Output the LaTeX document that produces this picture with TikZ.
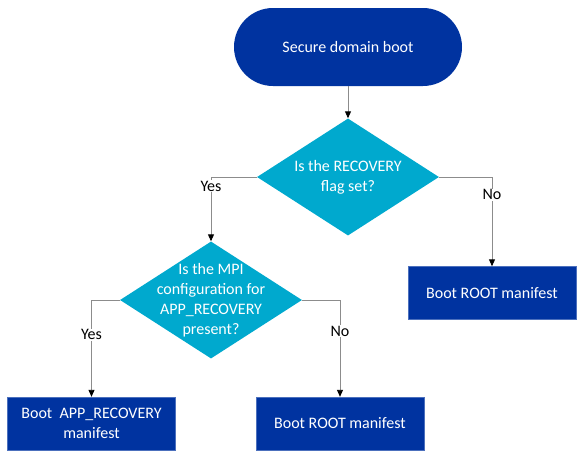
\documentclass[tikz,border=0pt]{standalone}
\usepackage{fontspec}
\setmainfont{Carlito}
\usetikzlibrary{arrows.meta,shapes.geometric}
\definecolor{BootNavy}{HTML}{0033A0}
\definecolor{BootCyan}{HTML}{00A9CE}
\definecolor{BootGrey}{HTML}{8C8C8C}

\begin{document}
\begin{tikzpicture}[x=1pt,y=-1pt,
    start/.style={fill=BootNavy,text=white,rounded corners=39pt,
      minimum width=228pt,minimum height=78pt,align=center,
      font=\fontsize{16}{20}\selectfont},
    decision/.style={diamond,fill=BootCyan,text=white,aspect=1.556,
      inner xsep=-14pt,inner ysep=-10pt,
      minimum width=182pt,minimum height=117pt,align=center,
      font=\fontsize{16}{20}\selectfont},
    manifest/.style={draw=BootNavy!70!white,fill=BootNavy,text=white,
      minimum width=168pt,minimum height=53pt,align=center,
      font=\fontsize{16}{20}\selectfont},
    answer/.style={fill=white,inner sep=1pt,font=\fontsize{16}{20}\selectfont},
    arrow/.style={-{Triangle[length=7pt,width=6pt,color=black]},
      draw=BootGrey,line width=0.9pt}
  ]
    \useasboundingbox (0,0) rectangle (584,459);

    \node[start] (boot) at (348,47) {Secure domain boot};

    \node[decision] (recovery) at (348,177)
      {Is the RECOVERY\\flag set?};
    \node[decision] (mpi) at (211,300)
      {Is the MPI\\configuration for\\APP\_RECOVERY\\present?};

    \node[manifest] (rootr) at (492,293) {Boot ROOT manifest};
    \node[manifest] (app) at (91.5,423.5) {Boot\ \ APP\_RECOVERY\\manifest};
    \node[manifest] (rootm) at (340,423.5) {Boot ROOT manifest};

    \draw[arrow] (boot) -- (recovery);
    \draw[arrow] (recovery.west) -| node[answer,pos=0.57] (yes1) {Yes} (mpi.north);
    \draw[arrow] (recovery.east) -| node[answer,pos=0.6] (no1) {No} (rootr.north);
    \draw[arrow] (mpi.west) -| node[answer,pos=0.68] (yes2) {Yes} (app.north);
    \draw[arrow] (mpi.east) -| node[answer,pos=0.66] (no2) {No} (rootm.north);
  \end{tikzpicture}
\end{document}
